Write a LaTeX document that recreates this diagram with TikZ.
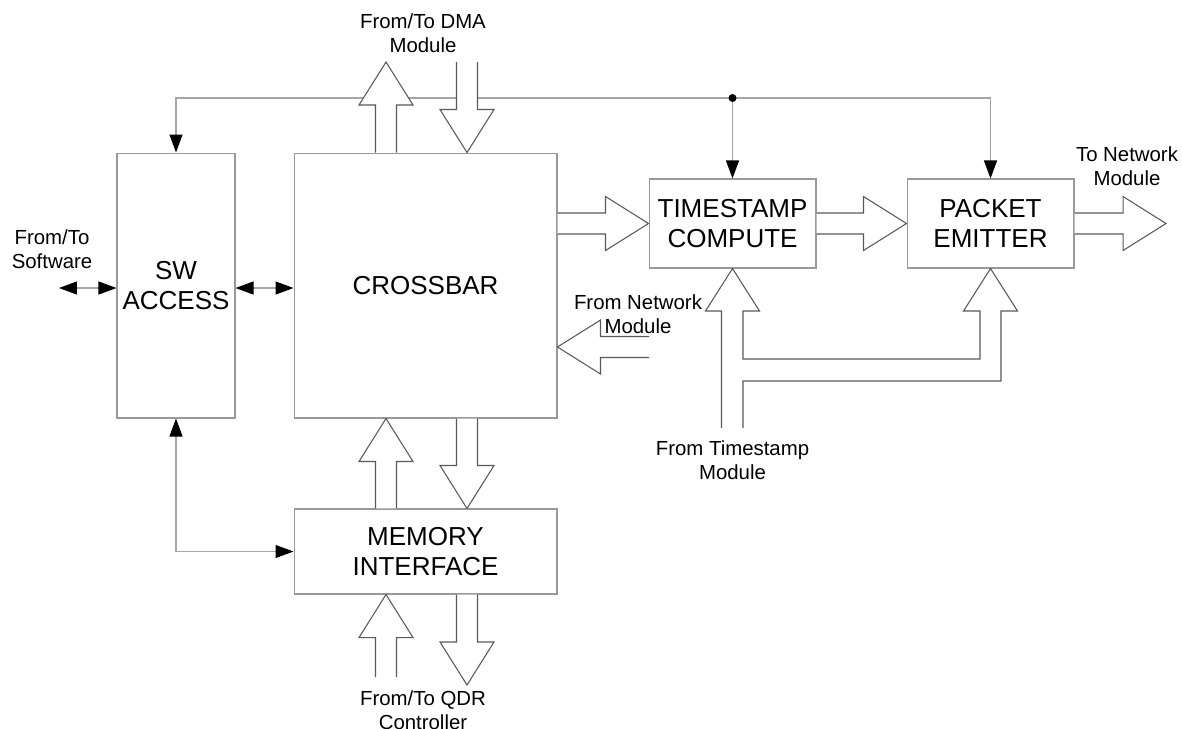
\documentclass[tikz,border=0pt]{standalone}
\usepackage{fontspec}
\setmainfont{Liberation Sans}
\usepackage{tikz}
\usetikzlibrary{arrows.meta, calc}

\newcommand{\boxfont}{\fontsize{14.8}{17.2}\selectfont}
\newcommand{\lblfont}{\fontsize{11.6}{13.4}\selectfont}

% hollow block arrow from #1 to #2 (coordinate names)
\newcommand{\blockarrow}[2]{%
  \coordinate (ba-h) at ($(#2)!0.86cm!(#1)$);
  \filldraw[blockarrow] ($(#1)!0.21cm!90:(#2)$) -- ($(ba-h)!0.21cm!-90:(#1)$) -- ($(ba-h)!0.54cm!-90:(#1)$) -- (#2) -- ($(ba-h)!0.54cm!90:(#1)$) -- ($(ba-h)!0.21cm!90:(#1)$) -- ($(#1)!0.21cm!-90:(#2)$);
}

\begin{document}
\begin{tikzpicture}[
    x=0.02cm, y=-0.02cm,
    block/.style={rectangle, draw=black!40, line width=0.6pt, inner sep=0pt, align=center, font=\boxfont},
    blockarrow/.style={draw=black!65, fill=white, line width=0.6pt},
    conn/.style={draw=black!35, line width=0.6pt, -{Triangle[length=0.36cm, width=0.26cm, color=black]}},
    conn2/.style={draw=black!35, line width=0.6pt, {Triangle[length=0.36cm, width=0.26cm, color=black]}-{Triangle[length=0.36cm, width=0.26cm, color=black]}},
    lbl/.style={align=center, font=\lblfont, inner sep=0pt}
]

\useasboundingbox (0,0) rectangle (1182,728);

% ===== BLOCKS =====
\node[block, minimum width=2.36cm, minimum height=5.3cm] (sw) at (176,285.5) {SW\\ACCESS};
\node[block, minimum width=5.26cm, minimum height=5.3cm] (xbar) at (425.5,285.5) {CROSSBAR};
\node[block, minimum width=3.34cm, minimum height=1.78cm] (ts) at (732.5,223.5) {TIMESTAMP\\COMPUTE};
\node[block, minimum width=3.34cm, minimum height=1.78cm] (pe) at (990.5,223.5) {PACKET\\EMITTER};
\node[block, minimum width=5.26cm, minimum height=1.7cm] (mem) at (425.5,551.5) {MEMORY\\INTERFACE};

% ===== LABELS =====
\node[lbl] (dmalbl) at (423,33) {From/To DMA\\Module};
\node[lbl] (swlbl) at (52,249) {From/To\\Software};
\node[lbl] (outlbl) at (1127,166) {To Network\\Module};
\node[lbl] (netlbl) at (638,314) {From Network\\Module};
\node[lbl] (tslbl) at (732.5,460) {From Timestamp\\Module};
\node[lbl] (qdrlbl) at (423,710) {From/To QDR\\Controller};

% ===== CONTROL LINES =====
\coordinate (bus) at (732.5,98);
\draw[conn] (bus) -| (sw.north);
\draw[conn] (bus) -| (pe.north);
\draw[conn] (bus) -- (ts.north);
\fill[black] (bus) circle (0.08cm);

\coordinate (sw-ext) at (59,288);
\draw[conn2] (sw-ext) -- (sw.west |- sw-ext);
\draw[conn2] (sw.east |- sw-ext) -- (xbar.west |- sw-ext);
\draw[conn2] (sw.south) |- (mem.west);

% ===== DATA PATHS =====
\coordinate (dma-out) at (386,62);
\coordinate (dma-in) at (467,62);
\coordinate (qdr-in) at (386,677);
\coordinate (qdr-out) at (467,685);
\coordinate (net-in) at (649,347);
\coordinate (net-out) at (1166,223.5);

\coordinate (a1) at (xbar.north -| dma-out);
\coordinate (a2) at (xbar.north -| dma-in);
\coordinate (a3) at (xbar.east |- ts.west);
\coordinate (a6) at (xbar.east |- net-in);
\coordinate (a7) at (xbar.south -| dma-in);
\coordinate (a8) at (mem.north -| dma-in);
\coordinate (a9) at (mem.north -| dma-out);
\coordinate (a10) at (xbar.south -| dma-out);
\coordinate (a11) at (mem.south -| qdr-in);
\coordinate (a12) at (mem.south -| qdr-out);

\blockarrow{a1}{dma-out}
\blockarrow{dma-in}{a2}
\blockarrow{a3}{ts.west}
\blockarrow{ts.east}{pe.west}
\blockarrow{pe.east}{net-out}
\blockarrow{net-in}{a6}
\blockarrow{a7}{a8}
\blockarrow{a9}{a10}
\blockarrow{qdr-in}{a11}
\blockarrow{a12}{qdr-out}

% timestamp feed, split to both blocks
\filldraw[blockarrow] (721.5,428) -- (721.5,311) -- (705.5,311) -- (ts.south) -- (759.5,311) -- (743,311)
  -- (743,359) -- (980,359) -- (980,311) -- (963.5,311) -- (pe.south) -- (1017.5,311) -- (1001,311)
  -- (1001,381) -- (743,381) -- (743,428);

\end{tikzpicture}
\end{document}
